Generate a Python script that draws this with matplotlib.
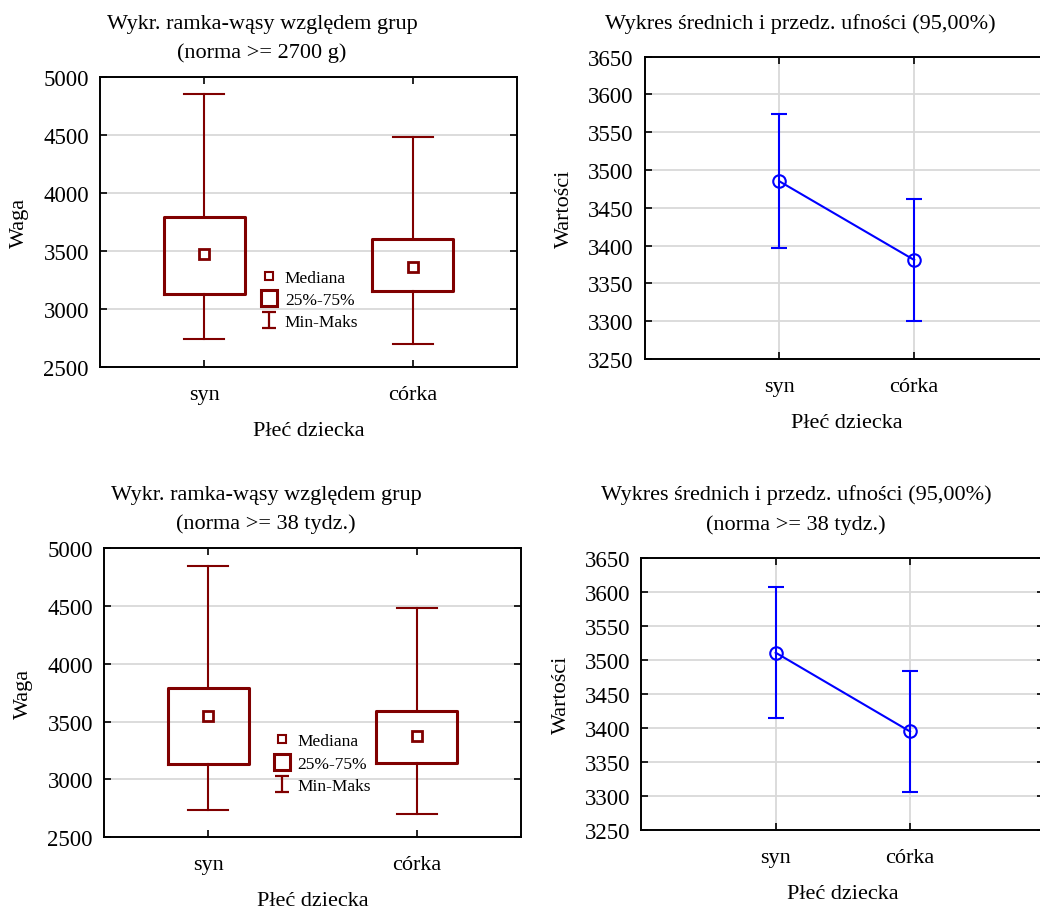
import numpy as np
import matplotlib
matplotlib.use("Agg")
import matplotlib.pyplot as plt
from matplotlib.lines import Line2D
from matplotlib.path import Path

plt.rcParams['font.family'] = ['Liberation Serif', 'DejaVu Serif']

groups = ['syn', 'córka']

# ramka-wąsy, norma >= 2700 g
w1_min = [2740, 2700]
w1_q1 = [3130, 3155]
w1_med = [3475, 3360]
w1_q3 = [3790, 3600]
w1_max = [4850, 4480]

# ramka-wąsy, norma >= 38 tydz.
w2_min = [2740, 2700]
w2_q1 = [3130, 3140]
w2_med = [3545, 3375]
w2_q3 = [3790, 3595]
w2_max = [4850, 4480]

# średnie i 95% przedziały ufności
m1_mean = [3485, 3381]
m1_lo = [3397, 3300]
m1_hi = [3574, 3462]

m2_mean = [3511, 3395]
m2_lo = [3415, 3306]
m2_hi = [3608, 3484]

RED = '#800000'
BLUE = '#0000ff'
GRID = '#d9d9d9'


def style_axes(ax):
    for s in ax.spines.values():
        s.set_linewidth(1.4)
    ax.tick_params(direction='in', top=True, right=True, length=5, width=1.2)
    ax.tick_params(axis='y', labelsize=16.5, pad=8)
    ax.tick_params(axis='x', labelsize=16, pad=13)
    ax.set_axisbelow(True)


def box_panel(ax, lo, q1, med, q3, hi, leg_anchor):
    stats = [dict(whislo=lo[i], q1=q1[i], med=med[i], q3=q3[i], whishi=hi[i],
                  fliers=[]) for i in range(len(groups))]
    x = np.arange(1, len(groups) + 1)
    ax.bxp(stats, positions=x, widths=0.39, capwidths=0.19, showfliers=False,
           boxprops=dict(color=RED, lw=2.2),
           whiskerprops=dict(color=RED, lw=1.5),
           capprops=dict(color=RED, lw=1.5),
           medianprops=dict(lw=0))
    ax.plot(x, med, ls='none', marker='s', ms=7.5, mfc='white', mec=RED, mew=2)
    ax.set_xlim(0.5, 2.5)
    ax.set_ylim(2500, 5000)
    ax.set_yticks(np.arange(2500, 5001, 500))
    ax.set_xticks(x, groups)
    ax.yaxis.grid(True, color=GRID, lw=1.3)
    style_axes(ax)
    ax.set_ylabel('Waga', fontsize=16, labelpad=10)
    ax.set_xlabel('Płeć dziecka', fontsize=16, labelpad=12)

    # legenda: mediana, ramka 25-75%, wąsy min-maks
    ibeam = Path([(-0.85, 1), (0.85, 1), (0, 1), (0, -1), (-0.85, -1), (0.85, -1)],
                 [Path.MOVETO, Path.LINETO, Path.MOVETO, Path.LINETO,
                  Path.MOVETO, Path.LINETO])
    handles = [
        Line2D([], [], ls='none', marker='s', ms=6, mfc='white', mec=RED, mew=1.5),
        Line2D([], [], ls='none', marker='s', ms=12, mfc='white', mec=RED, mew=2.2),
        Line2D([], [], ls='none', marker=ibeam, ms=11.5, mfc='none', mec=RED, mew=1.6),
    ]
    ax.legend(handles, ['Mediana', '25%-75%', 'Min-Maks'], loc='upper left',
              bbox_to_anchor=leg_anchor, frameon=False, fontsize=12.5,
              handlelength=1.0, handletextpad=0.4, labelspacing=0.35,
              borderpad=0, borderaxespad=0)


def mean_panel(ax, mean, lo, hi):
    x = np.arange(1, len(groups) + 1)
    mean = np.array(mean)
    yerr = [mean - np.array(lo), np.array(hi) - mean]
    ax.errorbar(x, mean, yerr=yerr, color=BLUE, lw=1.5, marker='o', ms=9,
                mfc='none', mew=1.5, capsize=6, capthick=1.5)
    ax.set_xlim(0, 3)
    ax.set_ylim(3250, 3650)
    ax.set_yticks(np.arange(3250, 3651, 50))
    ax.set_xticks(x, groups)
    ax.grid(True, color=GRID, lw=1.3)
    style_axes(ax)
    ax.set_ylabel('Wartości', fontsize=16, labelpad=10)
    ax.set_xlabel('Płeć dziecka', fontsize=16, labelpad=12)


fig = plt.figure(figsize=(10.4, 9.12), dpi=100)

ax1 = fig.add_axes([0.0962, 0.5965, 0.401, 0.318])
ax2 = fig.add_axes([0.620, 0.6053, 0.3885, 0.3315])
ax3 = fig.add_axes([0.100, 0.0808, 0.401, 0.317])
ax4 = fig.add_axes([0.6167, 0.0888, 0.3875, 0.298])

box_panel(ax1, w1_min, w1_q1, w1_med, w1_q3, w1_max, (0.385, 0.335))
mean_panel(ax2, m1_mean, m1_lo, m1_hi)
box_panel(ax3, w2_min, w2_q1, w2_med, w2_q3, w2_max, (0.405, 0.36))
mean_panel(ax4, m2_mean, m2_lo, m2_hi)

fig.text(262 / 1040, 1 - 39 / 912, 'Wykr. ramka-wąsy względem grup\n(norma >= 2700 g)',
         ha='center', va='center', fontsize=16, linespacing=1.6)
fig.text(800 / 1040, 1 - 24 / 912, 'Wykres średnich i przedz. ufności (95,00%)',
         ha='center', va='center', fontsize=16)
fig.text(266 / 1040, 1 - 510 / 912, 'Wykr. ramka-wąsy względem grup\n(norma >= 38 tydz.)',
         ha='center', va='center', fontsize=16, linespacing=1.6)
fig.text(796 / 1040, 1 - 510 / 912, 'Wykres średnich i przedz. ufności (95,00%)\n(norma >= 38 tydz.)',
         ha='center', va='center', fontsize=16, linespacing=1.75)

fig.savefig('out.png', dpi=100)
